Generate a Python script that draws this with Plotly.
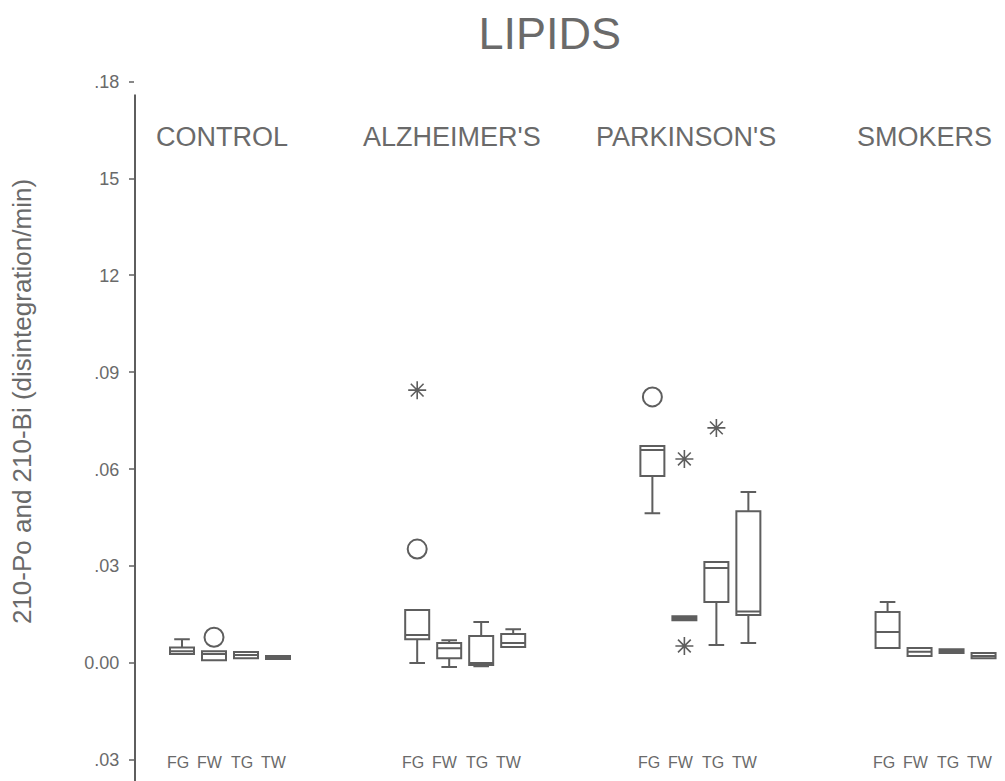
import plotly.graph_objects as go

# ---- data ----
groups = ["CONTROL", "ALZHEIMER'S", "PARKINSON'S", "SMOKERS"]
subcats = ["FG", "FW", "TG", "TW"]

# box statistics, ordered group by group, FG FW TG TW within each
lower_fence = [0.0028, 0.0009, 0.0015, 0.0013,
               0.0000, -0.0012, -0.0010, 0.0050,
               0.0464, 0.0133, 0.0056, 0.0062,
               0.0047, 0.0022, 0.0031, 0.0015]
q1_vals = [0.0028, 0.0009, 0.0015, 0.0013,
           0.0074, 0.0015, -0.0006, 0.0050,
           0.0579, 0.0133, 0.0189, 0.0149,
           0.0047, 0.0022, 0.0031, 0.0015]
median_vals = [0.0037, 0.0028, 0.0025, 0.0018,
               0.0087, 0.0046, 0.0000, 0.0062,
               0.0660, 0.0139, 0.0294, 0.0160,
               0.0096, 0.0035, 0.0037, 0.0022]
q3_vals = [0.0048, 0.0037, 0.0034, 0.0022,
           0.0164, 0.0062, 0.0084, 0.0090,
           0.0672, 0.0145, 0.0313, 0.0470,
           0.0158, 0.0047, 0.0043, 0.0031]
upper_fence = [0.0074, 0.0037, 0.0034, 0.0022,
               0.0164, 0.0071, 0.0127, 0.0105,
               0.0672, 0.0145, 0.0313, 0.0530,
               0.0189, 0.0047, 0.0043, 0.0031]

# outliers: (group index, subcategory index, value)
circle_group = [0, 1, 2]
circle_sub = [1, 0, 0]
circle_vals = [0.0080, 0.0353, 0.0824]

star_group = [1, 2, 2, 2]
star_sub = [0, 1, 1, 2]
star_vals = [0.0845, 0.0632, 0.0053, 0.0728]

y_tick_vals = [-0.03, 0.0, 0.03, 0.06, 0.09, 0.12, 0.15, 0.18]
y_tick_text = [".03", "0.00", ".03", ".06", ".09", "12", "15", ".18"]

title_text = "LIPIDS"
y_title = "210-Po and 210-Bi (disintegration/min)"

# ---- layout helpers ----
GROUP_STEP = 7.35
HEADER_SHIFT = [-0.25, -0.41, -0.45, -0.35]

def pos(g, s):
    return g * GROUP_STEP + s

box_x = [pos(g, s) for g in range(len(groups)) for s in range(len(subcats))]

INK = "#5e5e5e"
TXT = "#6a6a6a"
FONT = "Liberation Sans, Arial, sans-serif"

fig = go.Figure()

fig.add_trace(go.Box(
    x=box_x,
    q1=q1_vals, median=median_vals, q3=q3_vals,
    lowerfence=lower_fence, upperfence=upper_fence,
    width=0.75, whiskerwidth=0.65,
    line=dict(color=INK, width=2),
    fillcolor="rgba(255,255,255,0)",
    boxpoints=False, showlegend=False,
))

fig.add_trace(go.Scatter(
    x=[pos(g, s) for g, s in zip(circle_group, circle_sub)],
    y=circle_vals, mode="markers",
    marker=dict(symbol="circle-open", size=19, color=INK, line=dict(width=2, color=INK)),
    showlegend=False,
))
fig.add_trace(go.Scatter(
    x=[pos(g, s) for g, s in zip(star_group, star_sub)],
    y=star_vals, mode="markers",
    marker=dict(symbol="asterisk-open", size=15, color=INK, line=dict(width=1.6, color=INK)),
    showlegend=False,
))

annotations = []
# subcategory labels under each box
for g in range(len(groups)):
    for s, lab in enumerate(subcats):
        annotations.append(dict(
            x=pos(g, s) - 0.12, y=-0.0307, xref="x", yref="y", text=lab,
            showarrow=False, font=dict(family=FONT, size=16, color=TXT),
            xanchor="center", yanchor="middle"))
# group headers
for g, name in enumerate(groups):
    annotations.append(dict(
        x=pos(g, 1.5) + HEADER_SHIFT[g], y=0.1628, xref="x", yref="y", text=name,
        showarrow=False, font=dict(family=FONT, size=27, color=TXT),
        xanchor="center", yanchor="middle"))
# y-axis title
annotations.append(dict(
    x=-0.129, y=0.534, xref="paper", yref="paper", text=y_title, textangle=-90,
    showarrow=False, font=dict(family=FONT, size=26, color=TXT),
    xanchor="center", yanchor="middle"))

fig.update_layout(
    width=1005, height=781,
    margin=dict(l=135, r=0, t=70, b=0),
    paper_bgcolor="white", plot_bgcolor="white",
    title=dict(text=title_text, x=0.547, xref="container", xanchor="center",
               y=0.958, yref="container", yanchor="middle",
               font=dict(family=FONT, size=45, color=TXT)),
    annotations=annotations,
    shapes=[dict(type="line", xref="paper", yref="y", x0=0, x1=0,
                 y0=-0.0365, y1=0.176, line=dict(color=INK, width=2))],
    xaxis=dict(range=[-1.469, 25.72], showgrid=False, zeroline=False,
               showline=False, showticklabels=False, ticks=""),
    yaxis=dict(range=[-0.0365, 0.1836], showgrid=False, zeroline=False,
               showline=False,
               tickvals=y_tick_vals, ticktext=y_tick_text,
               ticks="outside", ticklen=5, tickwidth=2, tickcolor="#888",
               ticklabelstandoff=6,
               tickfont=dict(family=FONT, size=18, color=TXT)),
)

fig.write_html("out.html")
